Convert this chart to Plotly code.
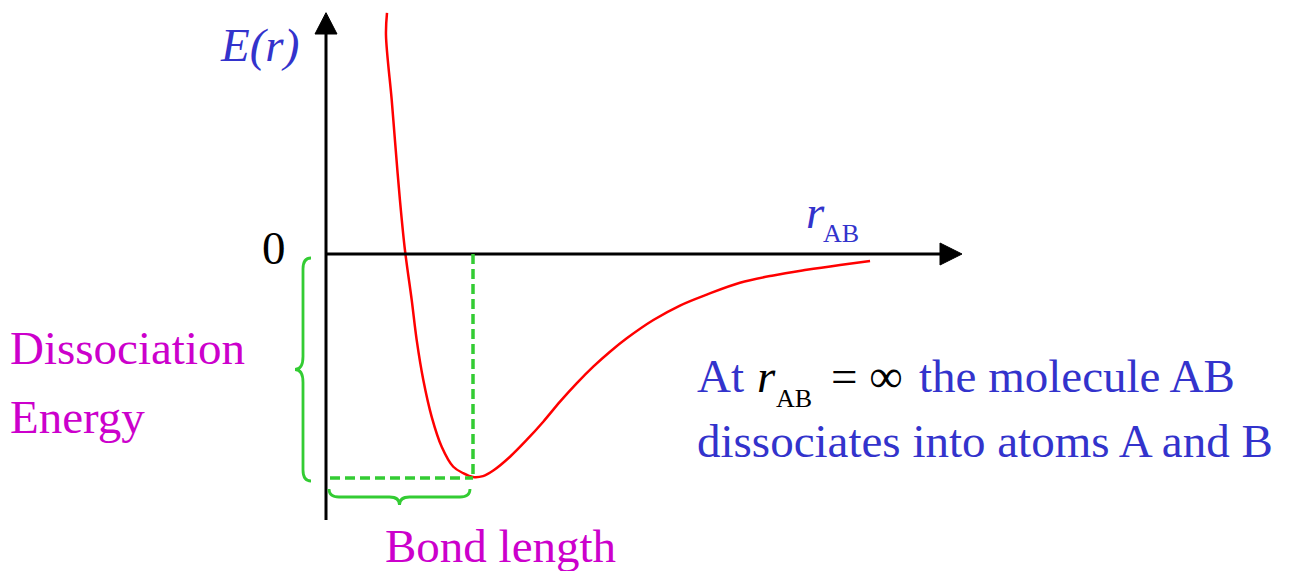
import plotly.graph_objects as go

# Potential energy E(r) of a diatomic molecule AB versus internuclear distance r_AB.
# r is in units of the equilibrium bond length, E in units of the dissociation energy.
r_ab = [0.415, 0.408, 0.447, 0.469, 0.503, 0.537, 0.583, 0.617, 0.662, 0.719,
        0.787, 0.866, 0.934, 1.000, 1.068, 1.138, 1.252, 1.365, 1.478, 1.592,
        1.705, 1.818, 1.932, 2.046, 2.227, 2.408, 2.590, 2.816, 3.043, 3.270,
        3.497, 3.701]
energy = [1.081, 0.982, 0.691, 0.511, 0.242, 0.018, -0.206, -0.386, -0.565, -0.730,
          -0.864, -0.954, -0.983, -1.000, -0.996, -0.971, -0.909, -0.834, -0.752, -0.662,
          -0.580, -0.505, -0.438, -0.378, -0.296, -0.231, -0.182, -0.129, -0.096, -0.071,
          -0.049, -0.031]

bond_length = 1.0          # r at the energy minimum
dissociation_energy = 1.0  # depth of the well below E = 0

# Page geometry: pixel position of the origin and pixels per unit on each axis
W, H = 1305, 571
X0_PX, Y0_PX = 326, 254
R_SCALE, E_SCALE = 147.0, 223.0


def rx(px):
    return (px - X0_PX) / R_SCALE


def ey(py):
    return (Y0_PX - py) / E_SCALE


BLUE = "#3333cc"
MAGENTA = "#cc00cc"
GREEN = "#33cc33"
SERIF = "Liberation Serif, Times New Roman, serif"

fig = go.Figure()

fig.add_trace(go.Scatter(
    x=r_ab, y=energy, mode="lines",
    line=dict(color="#ff0000", width=2.5, shape="spline", smoothing=1.0),
    hoverinfo="skip", showlegend=False,
))

shapes = []

# Energy axis with arrow
y_ax_bottom, y_ax_base, y_ax_tip = ey(520), ey(34), ey(12.7)
shapes.append(dict(type="line", x0=0, x1=0, y0=y_ax_bottom, y1=y_ax_base,
                   line=dict(color="black", width=3)))
hw = rx(X0_PX + 11)
shapes.append(dict(type="path",
                   path=f"M {-hw},{y_ax_base} L {hw},{y_ax_base} L 0,{y_ax_tip} Z",
                   fillcolor="black", line=dict(color="black", width=1)))

# Distance axis with arrow
x_ax_base, x_ax_tip = rx(940), rx(962)
shapes.append(dict(type="line", x0=0, x1=x_ax_base, y0=0, y1=0,
                   line=dict(color="black", width=3)))
hh = 11 / E_SCALE
shapes.append(dict(type="path",
                   path=f"M {x_ax_base},{hh} L {x_ax_base},{-hh} L {x_ax_tip},0 Z",
                   fillcolor="black", line=dict(color="black", width=1)))

# Dashed guides to the minimum
dash = "10px,5px"
shapes.append(dict(type="line", x0=bond_length, x1=bond_length, y0=0, y1=-dissociation_energy,
                   line=dict(color=GREEN, width=3.5, dash=dash)))
shapes.append(dict(type="line", x0=rx(330), x1=bond_length,
                   y0=-dissociation_energy - 1 / E_SCALE, y1=-dissociation_energy - 1 / E_SCALE,
                   line=dict(color=GREEN, width=3.5, dash=dash)))

# Curly brace spanning the well depth (left of the energy axis)
r_end, r_main, r_tip = rx(311), rx(303), rx(295)
e_top, e_bot = ey(258), -dissociation_energy - 4 / E_SCALE
e_mid = (e_top + e_bot) / 2
c_end, c_mid = 11 / E_SCALE, 13 / E_SCALE
brace_v = (f"M {r_end},{e_top} Q {r_main},{e_top} {r_main},{e_top - c_end} "
           f"L {r_main},{e_mid + c_mid} Q {r_main},{e_mid} {r_tip},{e_mid} "
           f"Q {r_main},{e_mid} {r_main},{e_mid - c_mid} "
           f"L {r_main},{e_bot + c_end} Q {r_main},{e_bot} {r_end},{e_bot}")
shapes.append(dict(type="path", path=brace_v, line=dict(color=GREEN, width=2.8)))

# Curly brace spanning the bond length (below the minimum)
r_left, r_right = rx(329), rx(470)
r_mid = (r_left + r_right) / 2
e_end, e_main, e_cusp = ey(489), ey(497), ey(505)
c_r = 10 / R_SCALE
brace_h = (f"M {r_left},{e_end} Q {r_left},{e_main} {r_left + c_r},{e_main} "
           f"L {r_mid - c_r},{e_main} Q {r_mid},{e_main} {r_mid},{e_cusp} "
           f"Q {r_mid},{e_main} {r_mid + c_r},{e_main} "
           f"L {r_right - c_r},{e_main} Q {r_right},{e_main} {r_right},{e_end}")
shapes.append(dict(type="path", path=brace_h, line=dict(color=GREEN, width=2.8)))

fig.update_layout(shapes=shapes)

ASCENT = 0.891


def label(text, left_px, baseline_px, size, color, italic=False):
    fig.add_annotation(
        x=rx(left_px), y=ey(baseline_px - ASCENT * size), xref="x", yref="y",
        xanchor="left", yanchor="top", showarrow=False, borderpad=0,
        text=text,
        font=dict(family=SERIF, size=size, color=color,
                  style="italic" if italic else "normal"),
    )


FS = 47
label("E(r)", 219, 60, FS, BLUE, italic=True)
label("0", 261, 263, FS, "black")
label("r", 805, 227, FS, BLUE, italic=True)
label("AB", 822, 241, 26, BLUE)
label("Dissociation", 9, 363, FS, MAGENTA)
label("Energy", 9, 432, FS, MAGENTA)
label("Bond length", 384, 561, FS, MAGENTA)
label("At", 696, 391, FS, BLUE)
label("r", 756, 391, FS, "black", italic=True)
label("AB", 775, 406, 26, "black")
label("= \u221e", 830, 391, FS, "black")
label("the molecule AB", 918, 391, FS, BLUE)
label("dissociates into atoms A and B", 696, 456, FS, BLUE)

fig.update_layout(
    width=W, height=H, autosize=False,
    margin=dict(l=0, r=0, t=0, b=0, pad=0),
    paper_bgcolor="white", plot_bgcolor="white",
    xaxis=dict(range=[rx(0), rx(W)], visible=False, fixedrange=True),
    yaxis=dict(range=[ey(H), ey(0)], visible=False, fixedrange=True),
    showlegend=False,
)

fig.write_html("out.html")
